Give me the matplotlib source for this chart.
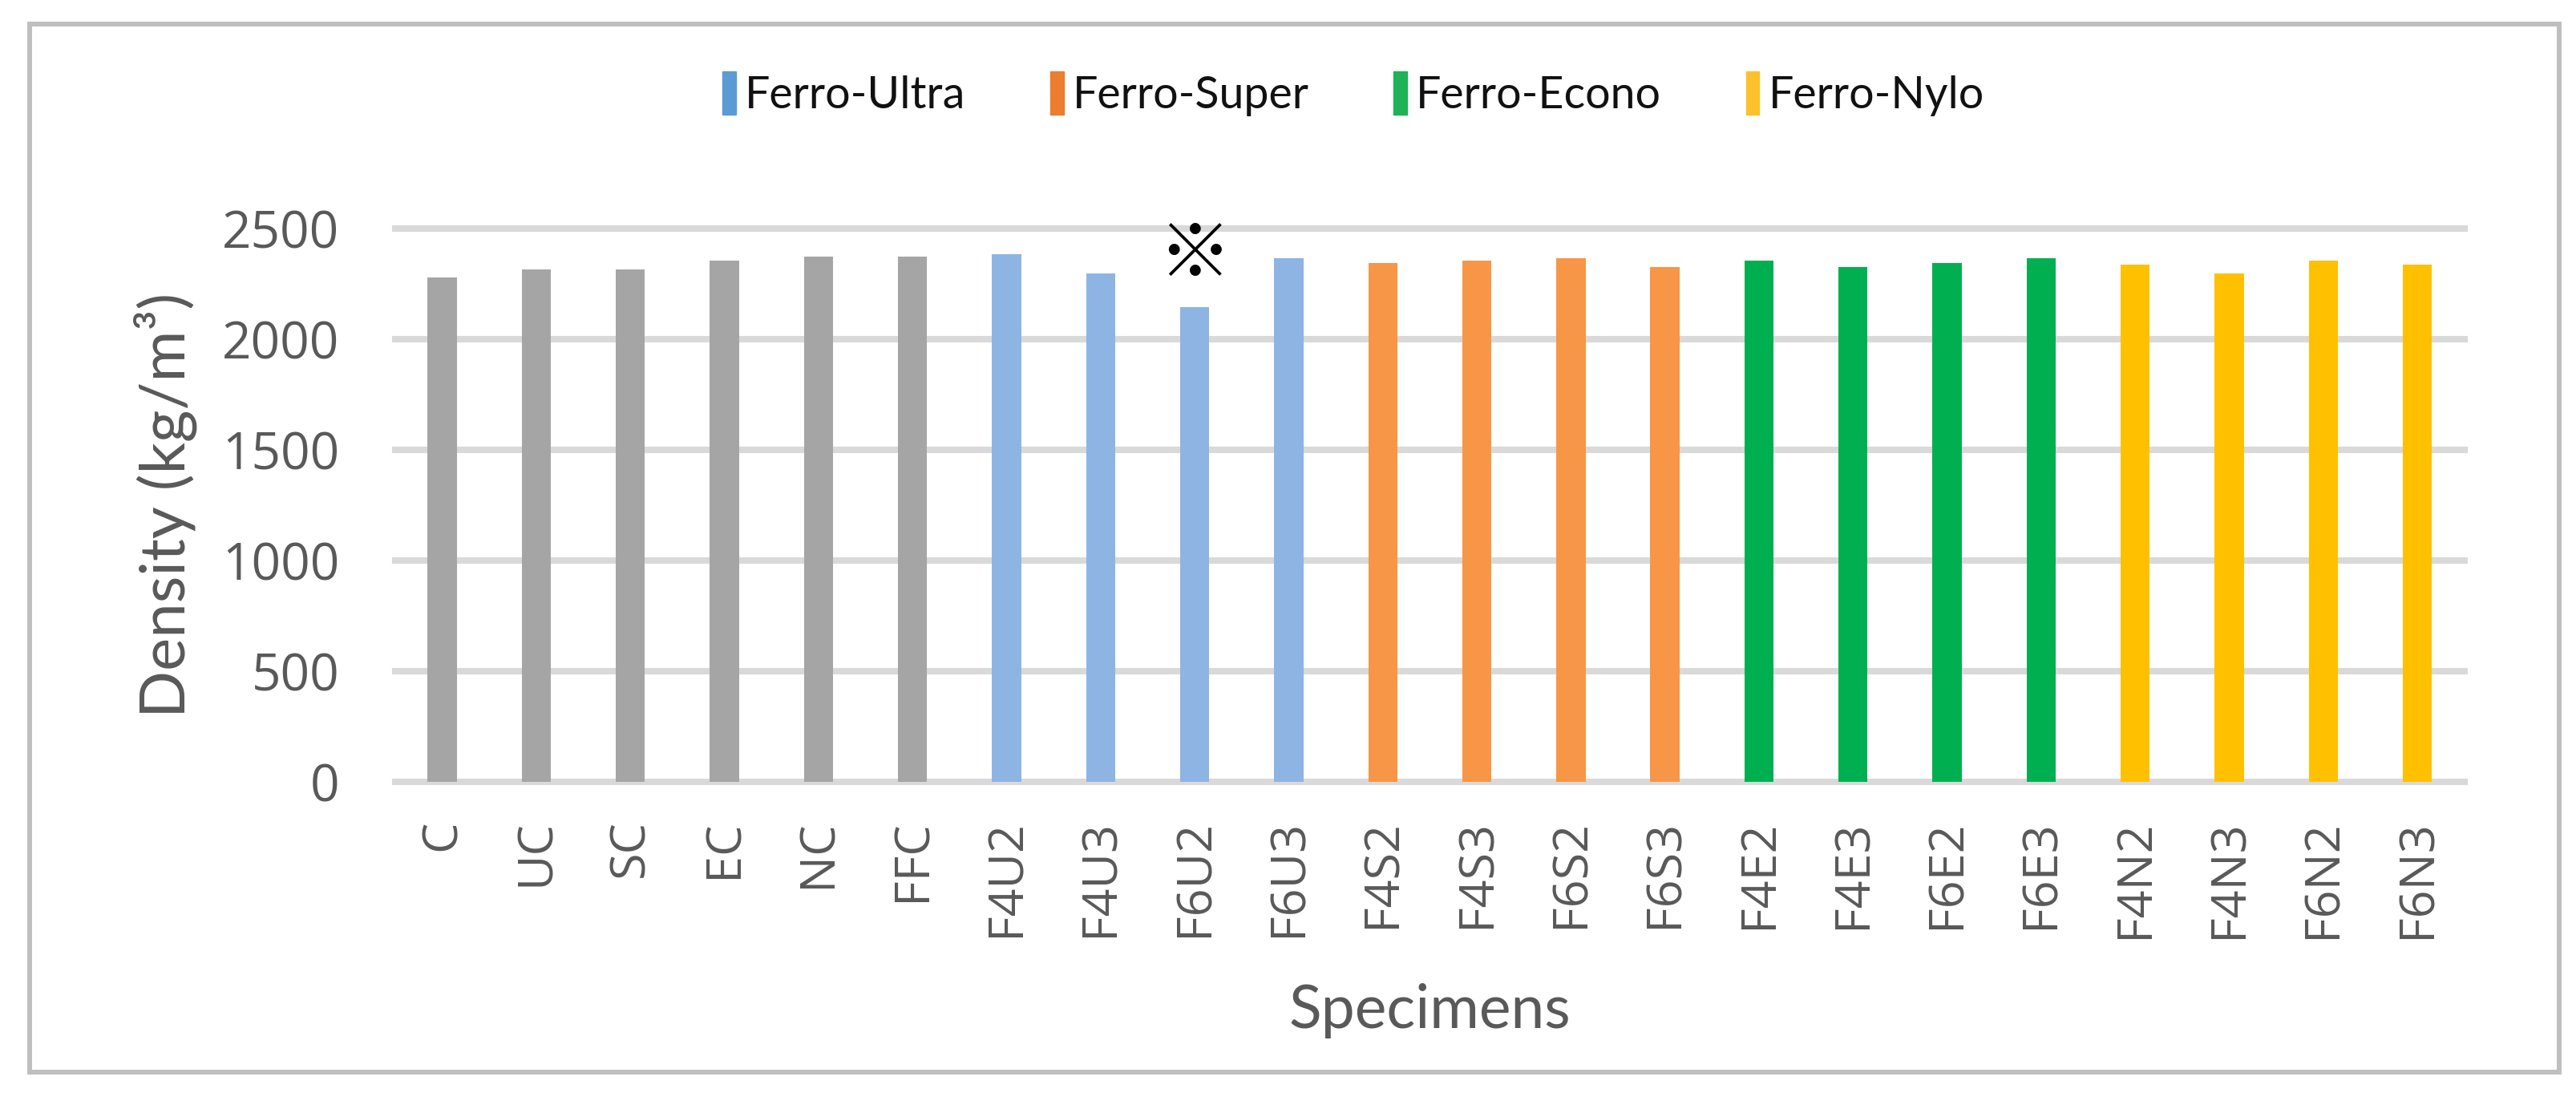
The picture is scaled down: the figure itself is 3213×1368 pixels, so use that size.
import matplotlib.pyplot as plt
from matplotlib.patches import Rectangle

specimens = ["C", "UC", "SC", "EC", "NC", "FFC",
             "F4U2", "F4U3", "F6U2", "F6U3",
             "F4S2", "F4S3", "F6S2", "F6S3",
             "F4E2", "F4E3", "F6E2", "F6E3",
             "F4N2", "F4N3", "F6N2", "F6N3"]
density = [2278, 2314, 2314, 2354, 2372, 2372,
           2383, 2296, 2143, 2365,
           2343, 2354, 2365, 2325,
           2354, 2325, 2343, 2365,
           2336, 2296, 2354, 2336]
group = ["plain"] * 6 + ["Ferro-Ultra"] * 4 + ["Ferro-Super"] * 4 \
        + ["Ferro-Econo"] * 4 + ["Ferro-Nylo"] * 4
legend_names = ["Ferro-Ultra", "Ferro-Super", "Ferro-Econo", "Ferro-Nylo"]

bar_col = {"plain": "#A5A5A5", "Ferro-Ultra": "#8EB4E3", "Ferro-Super": "#F79646",
           "Ferro-Econo": "#00B050", "Ferro-Nylo": "#FFC000"}
leg_col = {"Ferro-Ultra": "#5B9BD5", "Ferro-Super": "#ED7D31",
           "Ferro-Econo": "#1DB356", "Ferro-Nylo": "#FDC12B"}

TXT = "#595959"

fig = plt.figure(figsize=(32.13, 13.68), dpi=100)
ax = fig.add_axes([0.1534, 0.2873, 0.8033, 0.5044])

x = range(len(specimens))
ax.bar(x, density, width=0.31, color=[bar_col[g] for g in group], zorder=3)

ax.set_xlim(-0.5, len(specimens) - 0.5)
ax.set_ylim(0, 2500)
ax.set_yticks([0, 500, 1000, 1500, 2000, 2500])
ax.set_xticks(list(x))
ax.set_xticklabels(specimens, rotation=90, fontsize=44, family="Open Sans", color=TXT)
for lab in ax.get_yticklabels():
    lab.set_fontsize(46)
    lab.set_family("Open Sans")
    lab.set_color(TXT)
ax.tick_params(axis="y", length=0, pad=50)
ax.tick_params(axis="x", length=0, pad=34)

ax.grid(axis="y", color="#D9D9D9", linewidth=5.8, zorder=0)
ax.set_axisbelow(True)
for gl in ax.get_ygridlines():
    gl.set_clip_on(False)
for s in ax.spines.values():
    s.set_visible(False)

ax.set_ylabel("Density (kg/m³)", fontsize=56, family="Lato", color=TXT, labelpad=22)
ax.set_xlabel("Specimens", fontsize=54, family="Lato", color=TXT, labelpad=40)

# reference mark over the F6U2 bar
ax.text(8, 2372, "※", ha="center", va="center", fontsize=66,
        family=["Noto Sans CJK JP", "DejaVu Sans"], color="black", zorder=4)

handles = [Rectangle((0, 0), 1, 1, color=leg_col[n]) for n in legend_names]
fig.legend(handles, legend_names, loc="center", bbox_to_anchor=(0.5254, 0.9145),
           ncol=4, frameon=False, prop={"family": "Lato", "size": 40},
           labelcolor="#111111",
           handlelength=0.3, handleheight=1.1, handletextpad=0.2, columnspacing=1.9)

fig.patches.append(Rectangle((0.0115, 0.0227), 0.982, 0.9553, transform=fig.transFigure,
                             fill=False, edgecolor="#BFBFBF", linewidth=4.3))

fig.savefig("out.png", dpi=100)
